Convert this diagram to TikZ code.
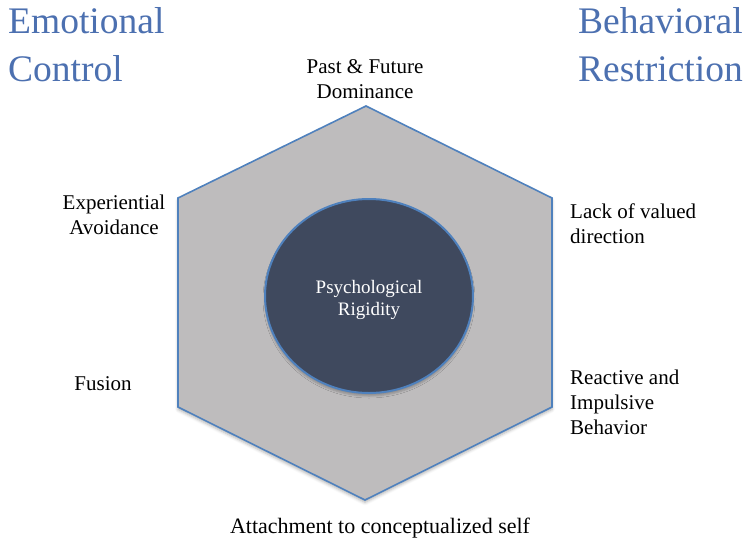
\documentclass[tikz,border=0pt]{standalone}
\usepackage{fontspec}
\setmainfont{Liberation Serif}
\usetikzlibrary{shapes.geometric,shadows.blur}
\definecolor{rimblue}{RGB}{79,129,189}
\definecolor{hexgray}{RGB}{190,188,189}
\definecolor{corenavy}{RGB}{63,73,94}
\definecolor{headblue}{RGB}{76,112,176}

\begin{document}
\begin{tikzpicture}[x=1pt,y=-1pt,
  facet/.style={font=\fontsize{21}{25}\selectfont, inner sep=0pt, align=center},
  heading/.style={font=\fontsize{37.5}{48}\selectfont, text=headblue, inner sep=0pt, align=left, anchor=base west},
  soft/.style={blur shadow={shadow xshift=0pt, shadow yshift=-2.5pt, shadow opacity=30, shadow blur radius=3pt}}]
\useasboundingbox (0,0) rectangle (745,539);
% corners of the hexagon
\coordinate (T) at (366,106);
\coordinate (UR) at (552,198);
\coordinate (LR) at (552,407);
\coordinate (B) at (365,500);
\coordinate (LL) at (178,407);
\coordinate (UL) at (178,198);
\draw[rimblue, line width=1.6pt, fill=hexgray, soft] (T)--(UR)--(LR)--(B)--(LL)--(UL)--cycle;
% the core
\node[ellipse, draw=rimblue, line width=2pt, fill=corenavy,
  blur shadow={shadow xshift=0pt, shadow yshift=-3pt, shadow opacity=25, shadow blur radius=2pt},
  minimum width=208pt, minimum height=194pt, inner sep=0pt] (core) at (369,296) {};
\node[align=center, inner sep=0pt, anchor=base, text=white,
  font=\fontsize{19}{22}\selectfont] (rigid) at (369,315) {Psychological\\Rigidity};
% the six processes (base = last line)
\node[facet, anchor=base] (past) at (365,98) {Past \& Future\\Dominance};
\node[facet, anchor=base] (avoid) at (114,234) {Experiential\\Avoidance};
\node[facet, anchor=base west, align=left] (lack) at (570,243) {Lack of valued\\direction};
\node[facet, anchor=base] (fusion) at (103,390) {Fusion};
\node[facet, anchor=base west, align=left] (react) at (570,434) {Reactive and\\Impulsive\\Behavior};
\node[facet, anchor=base, font=\fontsize{22}{25}\selectfont] (self) at (380,533) {Attachment to conceptualized self};
% headings
\node[heading] (emo) at (8,81) {Emotional\\Control};
\node[heading] (beh) at (578,81) {Behavioral\\Restriction};
\end{tikzpicture}
\end{document}
